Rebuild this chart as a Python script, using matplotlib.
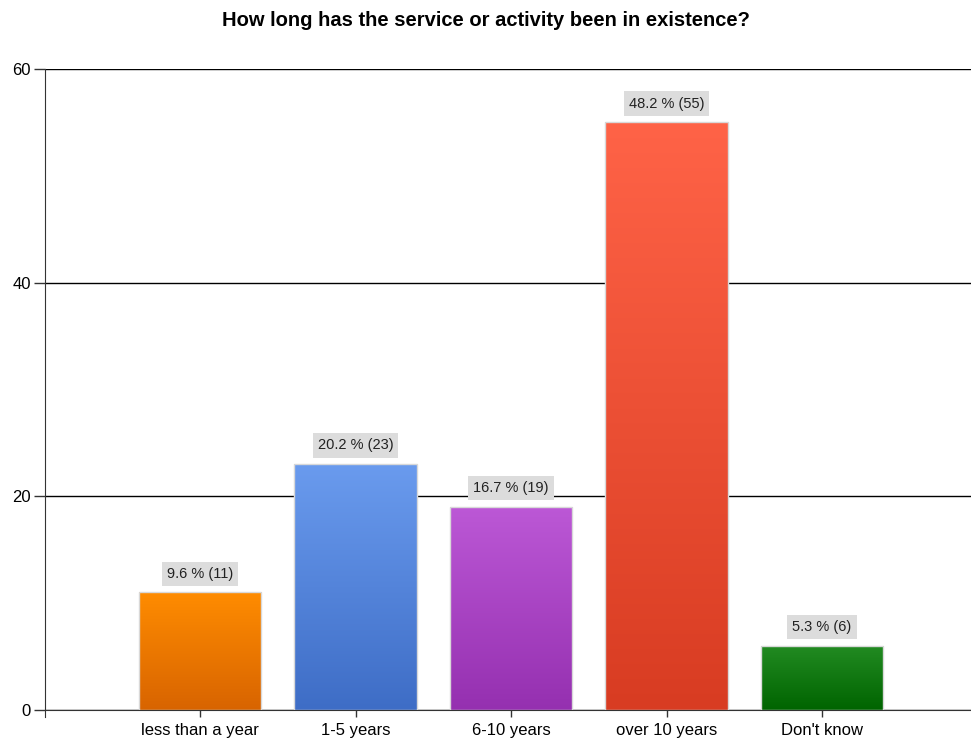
import matplotlib.pyplot as plt
import matplotlib.colors as mcolors
import numpy as np

plt.rcParams['font.family'] = ['Liberation Sans', 'DejaVu Sans']

# Data
categories = ['less than a year', '1-5 years', '6-10 years', 'over 10 years', "Don't know"]
counts = [11, 23, 19, 55, 6]
percents = [9.6, 20.2, 16.7, 48.2, 5.3]
top_colors = ['#FF8C00', '#6A9BEE', '#BC58D6', '#FF6347', '#228B22']
bottom_colors = ['#D86400', '#3E6DC6', '#9530B0', '#D83C22', '#006400']

fig = plt.figure(figsize=(9.71, 7.42), dpi=100)
ax = fig.add_axes([0.0463, 0.0431, 0.9537, 0.864])

x = np.arange(len(categories))
width = 0.79
bars = ax.bar(x, counts, width=width, color='none', edgecolor='#D8D8D8', linewidth=1, zorder=3)

# vertical gradient fill, clipped to each bar
for bar, c_top, c_bot in zip(bars, top_colors, bottom_colors):
    cmap = mcolors.LinearSegmentedColormap.from_list('g', [c_bot, c_top])
    grad = np.linspace(0, 1, 256).reshape(-1, 1)
    x0, y0 = bar.get_x(), bar.get_y()
    w, h = bar.get_width(), bar.get_height()
    im = ax.imshow(grad, cmap=cmap, origin='lower', aspect='auto',
                   extent=(x0, x0 + w, y0, y0 + h), zorder=2)
    im.set_clip_path(bar)

# value labels in grey boxes
for xi, n, p in zip(x, counts, percents):
    ax.annotate(f'{p} % ({n})', (xi, n), xytext=(0, 8.5), textcoords='offset points',
                ha='center', va='bottom', fontsize=10.5, color='#222222',
                bbox=dict(boxstyle='square,pad=0.35', fc='#DCDCDC', ec='none'), zorder=4)

ax.set_xlim(-0.997, 4.958)
ax.set_ylim(0, 60)
ax.set_yticks([0, 20, 40, 60])
ax.set_xticks(x)
ax.set_xticklabels(categories, fontsize=12)
ax.tick_params(axis='y', labelsize=12, length=8, width=1, color='#333333', pad=2)
ax.tick_params(axis='x', length=5, width=1, color='#333333', pad=4)
ax.grid(axis='y', color='black', linewidth=1, zorder=1)
ax.set_axisbelow(True)
for s in ['right', 'top']:
    ax.spines[s].set_visible(False)
ax.spines['left'].set_color('#333333')
ax.spines['left'].set_bounds(-0.7, 60)
ax.spines['bottom'].set_color('#333333')

fig.suptitle('How long has the service or activity been in existence?',
             fontsize=14.5, fontweight='bold', y=0.985)

fig.savefig('out.png', dpi=100)
